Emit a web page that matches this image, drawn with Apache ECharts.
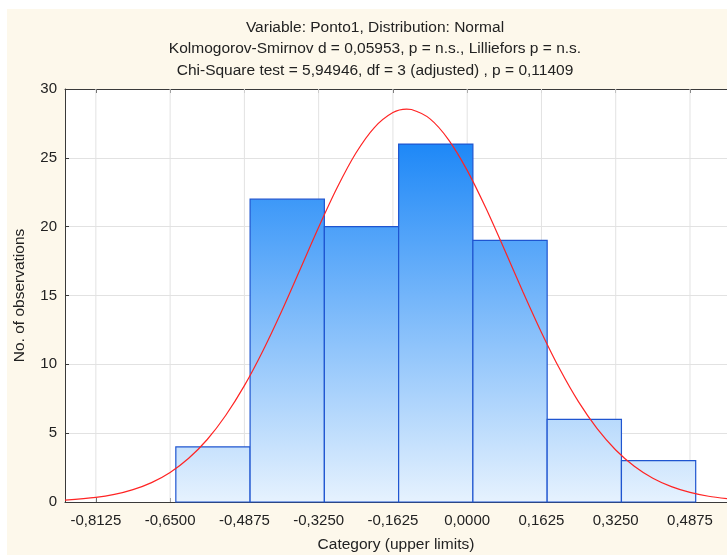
<!DOCTYPE html>
<html>
<head>
<meta charset="utf-8">
<script src="https://cdn.jsdelivr.net/npm/echarts@6/dist/echarts.min.js"></script>
<style>
  html, body { margin: 0; padding: 0; background: #ffffff; }
  #chart { width: 727px; height: 555px; }
</style>
</head>
<body>
<div id="chart"></div>
<script>
// Histogram of Ponto1 with fitted normal curve

// category tick positions (upper limits) and their labels
const xTickValues = [-0.8125, -0.65, -0.4875, -0.325, -0.1625, 0, 0.1625, 0.325, 0.4875];
const xTickLabels = ['-0,8125', '-0,6500', '-0,4875', '-0,3250', '-0,1625', '0,0000', '0,1625', '0,3250', '0,4875'];

// bin edges and observed counts
const binEdges = [-0.6375, -0.475, -0.3125, -0.15, 0.0125, 0.175, 0.3375, 0.5];
const counts = [4, 22, 20, 26, 19, 6, 3];

// expected-normal curve, sampled points
const curveX = [-0.88, -0.8125, -0.771875, -0.73125, -0.690625, -0.65, -0.609375, -0.56875,
  -0.528125, -0.4875, -0.446875, -0.40625, -0.365625, -0.325, -0.284375, -0.24375,
  -0.203125, -0.1625, -0.1325, -0.121875, -0.08125, -0.040625, 0, 0.040625, 0.08125,
  0.121875, 0.1625, 0.203125, 0.24375, 0.284375, 0.325, 0.365625, 0.40625, 0.446875,
  0.4875, 0.528125, 0.5685];
const curveY = [0.13, 0.33, 0.55, 0.90, 1.41, 2.15, 3.18, 4.54,
  6.30, 8.45, 10.99, 13.84, 16.89, 19.96, 22.84, 25.33,
  27.20, 28.29, 28.54, 28.51, 27.83, 26.31, 24.09, 21.37, 18.36,
  15.28, 12.32, 9.62, 7.27, 5.33, 3.78, 2.60, 1.73, 1.12,
  0.70, 0.42, 0.25];

const yMin = 0, yMax = 30, yStep = 5;
const xMin = -0.88, xMax = 0.5685;

const titleLines = [
  'Variable: Ponto1, Distribution: Normal',
  'Kolmogorov-Smirnov d = 0,05953, p = n.s., Lilliefors p = n.s.',
  'Chi-Square test = 5,94946, df = 3 (adjusted) , p = 0,11409'
];

const FONT = '"Liberation Sans", Arial, sans-serif';
const TEXT = '#222222';
const AXIS = '#3a3a3a';
const GRID = '#e2e2e2';

const barData = counts.map((c, i) => [binEdges[i], binEdges[i + 1], c]);
const curveData = curveX.map((x, i) => [x, curveY[i]]);
const labelFor = v => {
  const i = xTickValues.findIndex(t => Math.abs(t - v) < 1e-6);
  return i >= 0 ? xTickLabels[i] : '';
};

const chart = echarts.init(document.getElementById('chart'), null, { renderer: 'canvas' });

chart.setOption({
  backgroundColor: '#fdf8eb',
  animation: false,
  graphic: [
    { type: 'rect', left: 0, top: 0, shape: { width: 727, height: 9 }, style: { fill: '#ffffff' } },
    { type: 'rect', left: 0, top: 0, shape: { width: 7, height: 555 }, style: { fill: '#ffffff' } },
    ...titleLines.map((t, i) => ({
      type: 'text',
      x: 375,
      y: 27.5 + i * 21.5,
      style: {
        text: t, fill: TEXT, font: '15.5px ' + FONT,
        align: 'center', verticalAlign: 'middle'
      }
    }))
  ],
  grid: {
    left: 65, right: 0, top: 89, bottom: 53,
    show: true, backgroundColor: '#ffffff', borderWidth: 0,
    containLabel: false, outerBoundsMode: 'none'
  },
  xAxis: [
    {
      type: 'value', min: xMin, max: xMax, position: 'bottom',
      name: 'Category (upper limits)', nameLocation: 'middle', nameGap: 35,
      nameTextStyle: { color: TEXT, fontFamily: FONT, fontSize: 15.5 },
      axisLine: { show: true, onZero: false, lineStyle: { color: AXIS, width: 1 } },
      axisTick: { show: true, inside: true, length: 4, customValues: xTickValues, lineStyle: { color: AXIS } },
      axisLabel: {
        customValues: xTickValues, formatter: labelFor, margin: 11,
        color: TEXT, fontFamily: FONT, fontSize: 15,
        showMinLabel: true, showMaxLabel: true
      },
      splitLine: { show: false }
    },
    {
      type: 'value', min: xMin, max: xMax, position: 'top',
      axisLine: { show: true, onZero: false, lineStyle: { color: AXIS, width: 1 } },
      axisTick: { show: true, inside: true, length: 4, customValues: xTickValues, lineStyle: { color: AXIS } },
      axisLabel: { show: false },
      splitLine: { show: false }
    }
  ],
  yAxis: {
    type: 'value', min: yMin, max: yMax, interval: yStep, position: 'left',
    name: 'No. of observations', nameLocation: 'middle', nameGap: 37,
    nameTextStyle: { color: TEXT, fontFamily: FONT, fontSize: 15.5 },
    axisLine: { show: true, onZero: false, lineStyle: { color: AXIS, width: 1 } },
    axisTick: { show: true, inside: true, length: 4, lineStyle: { color: AXIS } },
    axisLabel: { color: TEXT, fontFamily: FONT, fontSize: 15, margin: 8 },
    splitLine: { show: true, lineStyle: { color: GRID, width: 1 } }
  },
  series: [
    {
      // vertical grid lines at category ticks
      type: 'custom',
      xAxisIndex: 0,
      z: 1,
      silent: true,
      data: xTickValues.map(v => [v]),
      encode: { x: 0 },
      renderItem: (params, api) => {
        const a = api.coord([api.value(0), yMax]);
        const b = api.coord([api.value(0), yMin]);
        return {
          type: 'line',
          shape: { x1: a[0], y1: a[1], x2: b[0], y2: b[1] },
          style: { stroke: GRID, lineWidth: 1 }
        };
      }
    },
    {
      // histogram bars
      type: 'custom',
      xAxisIndex: 0,
      z: 2,
      data: barData,
      encode: { x: [0, 1], y: 2 },
      renderItem: (params, api) => {
        const p0 = api.coord([api.value(0), api.value(2)]);
        const p1 = api.coord([api.value(1), 0]);
        const gTop = api.coord([0, 26])[1];
        const gBot = api.coord([0, 0])[1];
        const fill = new echarts.graphic.LinearGradient(0, gTop, 0, gBot, [
          { offset: 0, color: '#1e88f7' },
          { offset: 1, color: '#e6f2fe' }
        ], true);
        return {
          type: 'rect',
          shape: { x: p0[0], y: p0[1], width: p1[0] - p0[0], height: p1[1] - p0[1] },
          style: { fill: fill, stroke: '#1f55d0', lineWidth: 1.2 }
        };
      }
    },
    {
      // expected normal curve
      type: 'line',
      xAxisIndex: 0,
      z: 3,
      data: curveData,
      smooth: 0.3,
      showSymbol: false,
      symbol: 'none',
      lineStyle: { color: '#ff2424', width: 1.2 }
    }
  ]
});
</script>
</body>
</html>
